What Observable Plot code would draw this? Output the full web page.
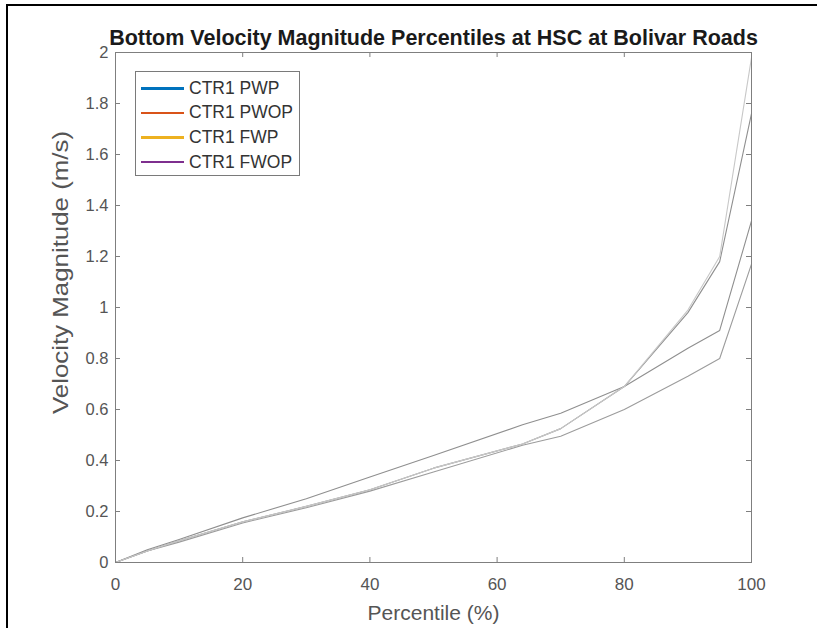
<!DOCTYPE html>
<html>
<head>
<meta charset="utf-8">
<script src="https://cdn.jsdelivr.net/npm/d3@7"></script>
<script src="https://cdn.jsdelivr.net/npm/@observablehq/plot@0.6"></script>
<style>
  html, body { margin: 0; padding: 0; background: #fff; overflow: hidden; }
  #wrap { position: relative; width: 817px; height: 628px; overflow: hidden; font-family: "Liberation Sans", Arial, sans-serif; }
  #bTop { position: absolute; left: 6px; top: 4px; width: 811px; height: 2px; background: #000; }
  #bLeft { position: absolute; left: 6px; top: 4px; width: 2px; height: 624px; background: #000; }
  #legend { position: absolute; left: 135px; top: 71px; width: 165px; height: 105px; border: 1px solid #7a7a7a; background: #fff; box-sizing: border-box; padding-top: 4px; }
  .row { height: 24.6px; display: flex; align-items: center; }
  .sw { width: 43px; height: 2.5px; margin-left: 5px; margin-right: 5px; }
  .lab { font-size: 17.5px; color: #333; white-space: nowrap; }
</style>
</head>
<body>
<div id="wrap"><div id="chart"></div><div id="legend"></div><div id="bTop"></div><div id="bLeft"></div></div>
<script>
// Data
const percentiles = [0, 5, 10, 20, 30, 40, 50, 64, 70, 80, 90, 95, 100];
const pwp  = [0, 0.05, 0.09, 0.175, 0.25, 0.335, 0.42, 0.54, 0.585, 0.69, 0.84, 0.91, 1.34];
const pwop = [0, 0.045, 0.085, 0.16, 0.22, 0.285, 0.37, 0.465, 0.525, 0.69, 0.98, 1.18, 1.76];
const fwp  = [0, 0.045, 0.08, 0.155, 0.215, 0.28, 0.355, 0.46, 0.495, 0.60, 0.73, 0.80, 1.17];
const fwop = [0, 0.045, 0.085, 0.16, 0.22, 0.285, 0.37, 0.465, 0.525, 0.69, 0.99, 1.20, 1.98];
const seriesNames = ["CTR1 PWP", "CTR1 PWOP", "CTR1 FWP", "CTR1 FWOP"];
const legendColors = ["#0072BD", "#D95319", "#EDB120", "#7E2F8E"];
const lineColors = ["#8f8f8f", "#8f8f8f", "#9c9c9c", "#c8c8c8"];
const xTicks = [0, 20, 40, 60, 80, 100];
const yTicks = [0, 0.2, 0.4, 0.6, 0.8, 1, 1.2, 1.4, 1.6, 1.8, 2];
const titleText = "Bottom Velocity Magnitude Percentiles at HSC at Bolivar Roads";
const xLabel = "Percentile (%)";
const yLabel = "Velocity Magnitude (m/s)";

const allSeries = [pwp, pwop, fwp, fwop];
const rows = [];
allSeries.forEach((vals, si) => {
  vals.forEach((v, i) => rows.push({s: seriesNames[si], p: percentiles[i], v}));
});

const W = 817, H = 628, mL = 115, mR = 66, mT = 52, mB = 66;
const fh = H - mT - mB, fw = W - mL - mR, tk = 5;
const axisColor = "#7f7f7f";

const chart = Plot.plot({
  width: W, height: H,
  marginLeft: mL, marginRight: mR, marginTop: mT, marginBottom: mB,
  style: {fontFamily: "'Liberation Sans', Arial, sans-serif", background: "transparent", overflow: "visible"},
  x: {domain: [0, 100]},
  y: {domain: [0, 2]},
  color: {domain: seriesNames, range: lineColors},
  marks: [
    Plot.line(rows, {x: "p", y: "v", z: "s", stroke: "s", strokeWidth: 1.1}),
    Plot.frame({stroke: axisColor, strokeWidth: 1}),
    Plot.tickX(xTicks, {x: d => d, stroke: axisColor, insetTop: fh - tk}),
    Plot.tickX(xTicks, {x: d => d, stroke: axisColor, insetBottom: fh - tk}),
    Plot.tickY(yTicks, {y: d => d, stroke: axisColor, insetRight: fw - tk}),
    Plot.tickY(yTicks, {y: d => d, stroke: axisColor, insetLeft: fw - tk}),
    Plot.axisX(xTicks, {tickSize: 0, tickPadding: 15, fontSize: 17, fill: "#555", label: null}),
    Plot.axisY(yTicks, {tickSize: 0, tickPadding: 7, fontSize: 16.5, fill: "#555", label: null, tickFormat: d => String(+d.toFixed(1))}),
    Plot.text([titleText], {text: d => d, frameAnchor: "top", dy: -14, lineAnchor: "middle", fontSize: 21.5, fontWeight: "bold", fill: "#1a1a1a"}),
    Plot.text([xLabel], {text: d => d, frameAnchor: "bottom", dy: 51, lineAnchor: "middle", fontSize: 21, fill: "#555"}),
    Plot.text([yLabel], {text: d => d, frameAnchor: "left", textAnchor: "middle", dx: -54, dy: -35, rotate: -90, lineAnchor: "middle", fontSize: 21.5, fill: "#555", className: "ylab"})
  ]
});
document.getElementById("chart").appendChild(chart);
d3.select(chart).selectAll("g.ylab text").attr("textLength", 283).attr("lengthAdjust", "spacingAndGlyphs");

const legend = d3.select("#legend");
seriesNames.forEach((name, i) => {
  const r = legend.append("div").attr("class", "row");
  r.append("div").attr("class", "sw").style("background", legendColors[i]);
  r.append("div").attr("class", "lab").text(name);
});
</script>
</body>
</html>
